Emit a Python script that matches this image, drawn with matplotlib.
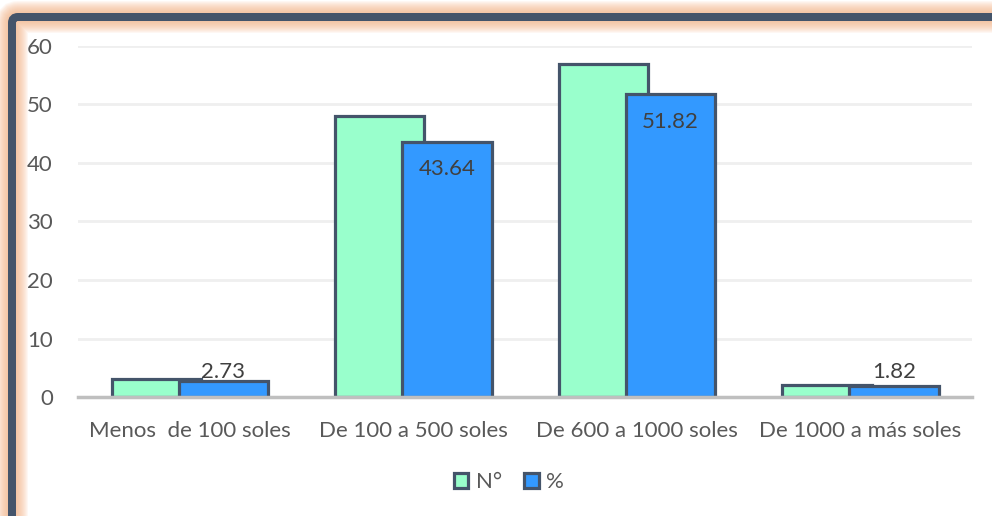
import matplotlib
matplotlib.use("Agg")
import matplotlib.pyplot as plt
import numpy as np
from matplotlib.patches import FancyBboxPatch, Patch
from matplotlib.transforms import IdentityTransform

# ingreso mensual: frecuencia y porcentaje
categorias = ["Menos  de 100 soles", "De 100 a 500 soles", "De 600 a 1000 soles", "De 1000 a más soles"]
frecuencia = [3, 48, 57, 2]
porcentaje = [2.73, 43.64, 51.82, 1.82]
series = ["N°", "%"]

verde = "#99FFCC"
azul = "#3399FF"
borde = "#44546A"
gris_texto = "#595959"

plt.rcParams['font.family'] = ['Lato', 'DejaVu Sans']

fig = plt.figure(figsize=(9.92, 5.16), dpi=100)
ax = fig.add_axes([0.0786, 0.2306, 0.9014, 0.6803])

x = np.arange(len(categorias))
ancho = 0.4
ax.bar(x - 0.15, frecuencia, ancho, color=verde, edgecolor=borde, linewidth=2.3, zorder=3)
ax.bar(x + 0.15, porcentaje, ancho, color=azul, edgecolor=borde, linewidth=2.3, zorder=4)

# etiquetas de porcentaje: dentro del extremo, o sobre la base si la barra es baja
for xi, v in zip(x + 0.15, porcentaje):
    if v > 10:
        ax.annotate(f"{v:.2f}", (xi, v), xytext=(0, -20), textcoords="offset points",
                    ha="center", va="center", fontsize=16, color="#404040", zorder=5)
    else:
        ax.annotate(f"{v:.2f}", (xi, 0), xytext=(0, 18), textcoords="offset points",
                    ha="center", va="center", fontsize=16, color="#404040", zorder=5)

ax.set_xlim(-0.5, len(categorias) - 0.5)
ax.set_ylim(0, 60)
ax.set_yticks(range(0, 61, 10))
ax.set_xticks(x)
ax.set_xticklabels(categorias)
ax.tick_params(axis="both", length=0, labelsize=16, labelcolor=gris_texto)
ax.tick_params(axis="y", pad=18)
ax.tick_params(axis="x", pad=17)
ax.grid(axis="y", color="#EFEFEF", linewidth=2, zorder=0)
for lado in ["top", "right", "left"]:
    ax.spines[lado].set_visible(False)
ax.spines["bottom"].set_color("#BFBFBF")
ax.spines["bottom"].set_linewidth(2.5)
ax.spines["bottom"].set_zorder(6)

manejadores = [Patch(facecolor=verde, edgecolor=borde, linewidth=2.3),
               Patch(facecolor=azul, edgecolor=borde, linewidth=2.3)]
fig.legend(manejadores, series, loc="center", bbox_to_anchor=(0.513, 0.066), ncol=2,
           frameon=False, fontsize=16, labelcolor=gris_texto, handlelength=0.65,
           handleheight=0.65, handletextpad=0.35, columnspacing=1.0)

# marco exterior con halo naranja
for d in range(1, 13):
    halo = FancyBboxPatch((12, -120), 1200, 516 - 17 + 120,
                          boxstyle="round,pad=0,rounding_size=6",
                          transform=IdentityTransform(), fill=False,
                          edgecolor="#F4B183", linewidth=(8 + 2 * d) * 0.72, alpha=0.09, zorder=0)
    fig.patches.append(halo)
marco = FancyBboxPatch((12, -120), 1200, 516 - 17 + 120,
                       boxstyle="round,pad=0,rounding_size=6",
                       transform=IdentityTransform(), fill=False,
                       edgecolor=borde, linewidth=8 * 0.72, zorder=1)
fig.patches.append(marco)

fig.savefig("out.png", dpi=100)
